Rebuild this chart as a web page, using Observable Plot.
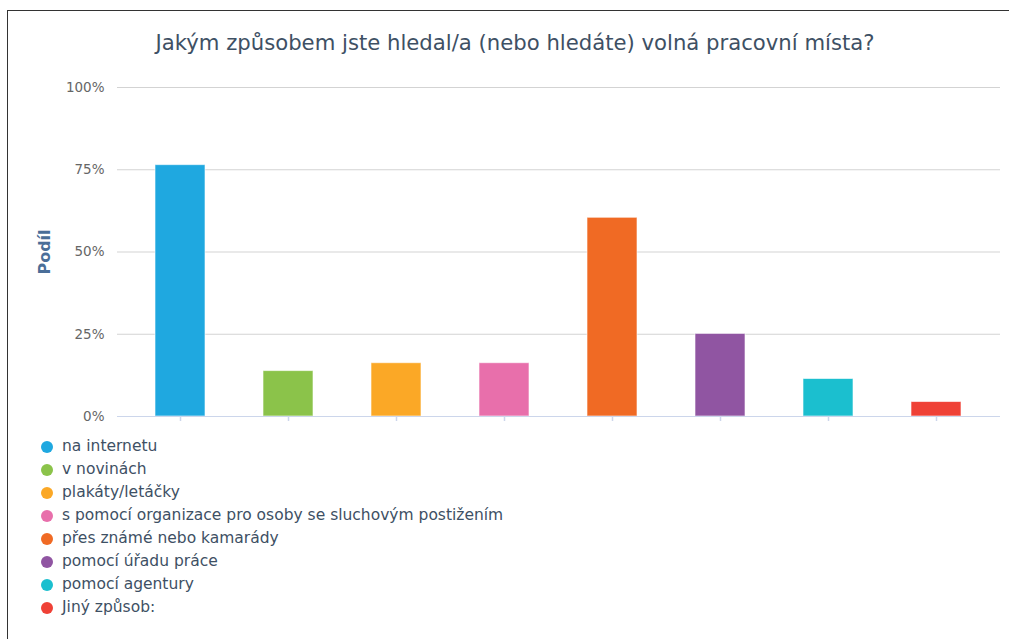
<!DOCTYPE html>
<html>
<head>
<meta charset="utf-8">
<script src="https://cdn.jsdelivr.net/npm/d3@7"></script>
<script src="https://cdn.jsdelivr.net/npm/@observablehq/plot@0.6"></script>
<style>
  html, body { margin: 0; padding: 0; background: #fff; width: 1009px; height: 639px; overflow: hidden; }
  body { font-family: "DejaVu Sans", sans-serif; position: relative; }
  #frame { position: absolute; left: 7px; top: 10px; width: 1200px; height: 800px;
           border-top: 1.5px solid #333; border-left: 1.5px solid #333; }
  #title { position: absolute; left: 0; width: 1030px; top: 30px; text-align: center;
           font-size: 21.2px; color: #3e5064; white-space: nowrap; }
  #chart { position: absolute; left: 0; top: 0; }
  #legend { position: absolute; left: 41px; top: 435px; font-size: 15.5px; color: #3e5064; }
  .row { height: 23px; line-height: 23px; white-space: nowrap; display: flex; align-items: center; }
  .dot { width: 12px; height: 12px; border-radius: 50%; margin-right: 9px; display: inline-block; }
</style>
</head>
<body>
<div id="frame"></div>
<div id="title"></div>
<div id="chart"></div>
<div id="legend"></div>
<script>
const title = "Jakým způsobem jste hledal/a (nebo hledáte) volná pracovní místa?";
const yLabel = "Podíl";
const categories = [
  "na internetu",
  "v novinách",
  "plakáty/letáčky",
  "s pomocí organizace pro osoby se sluchovým postižením",
  "přes známé nebo kamarády",
  "pomocí úřadu práce",
  "pomocí agentury",
  "Jiný způsob:"
];
const shares = [0.764, 0.138, 0.162, 0.162, 0.604, 0.251, 0.114, 0.044];
const colors = ["#1fa8e0", "#8bc34a", "#fba826", "#e86fab", "#f06a24", "#9055a2", "#1bbfcf", "#ef4136"];
const yTicks = [0, 0.25, 0.5, 0.75, 1];

const data = categories.map((c, i) => ({category: c, share: shares[i]}));

document.getElementById("title").textContent = title;

const chart = Plot.plot({
  width: 1009,
  height: 430,
  marginTop: 87,
  marginBottom: 14,
  marginLeft: 123,
  marginRight: 16,
  style: {fontFamily: "DejaVu Sans, sans-serif", background: "transparent"},
  x: {domain: categories, padding: 0, axis: null},
  y: {domain: [0, 1], axis: null},
  color: {type: "ordinal", domain: categories, range: colors},
  marks: [
    Plot.ruleY(yTicks.filter(d => d > 0), {stroke: "#d3d3d3", strokeWidth: 1, insetLeft: -6, insetRight: -7}),
    Plot.text(yTicks, {y: d => d, frameAnchor: "left", text: d => Math.round(d * 100) + "%",
      textAnchor: "end", dx: -19, fontSize: 13.5, fill: "#666"}),
    Plot.text([yLabel], {frameAnchor: "left", textAnchor: "middle", rotate: -90, dx: -79,
      fontSize: 16, fontWeight: "bold", fill: "#4a6e98"}),
    Plot.barY(data, {x: "category", y: "share", fill: "category", insetLeft: 29, insetRight: 29,
      stroke: "#ffffff", strokeOpacity: 0.6, strokeWidth: 1}),
    Plot.ruleY([0], {stroke: "#ccd6eb", strokeWidth: 1, insetLeft: -6, insetRight: -7}),
    Plot.ruleX(data, {x: "category", y1: 0, y2: 0, stroke: "#ccd6eb", strokeWidth: 1.5, insetBottom: -5})
  ]
});
document.getElementById("chart").appendChild(chart);

const legend = document.getElementById("legend");
categories.forEach((c, i) => {
  const row = document.createElement("div");
  row.className = "row";
  const dot = document.createElement("span");
  dot.className = "dot";
  dot.style.background = colors[i];
  const label = document.createElement("span");
  label.textContent = c;
  row.appendChild(dot);
  row.appendChild(label);
  legend.appendChild(row);
});
</script>
</body>
</html>
